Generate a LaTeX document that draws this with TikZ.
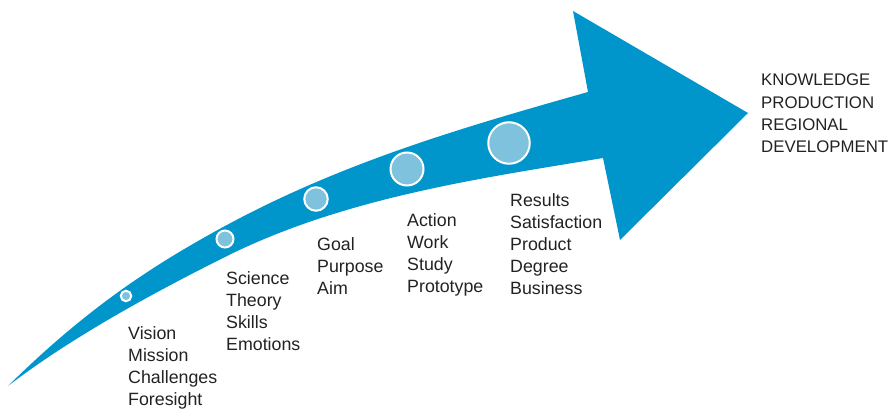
\documentclass[tikz,border=0pt]{standalone}
\usepackage{fontspec}
\setmainfont{Liberation Sans}
\definecolor{arrowblue}{HTML}{0096CC}
\definecolor{dotblue}{HTML}{7FC2DE}
\definecolor{txt}{HTML}{222222}
\begin{document}
\begin{tikzpicture}[x=1pt,y=-1pt,
  dot/.style={circle,fill=dotblue,draw=white,line width=2pt,inner sep=0pt},
  lbl/.style={anchor=base west,inner sep=0pt,text=txt,font=\fontsize{17.8}{20}\selectfont},
  caps/.style={lbl,font=\fontsize{16.8}{20}\selectfont}]
\useasboundingbox (0,0) rectangle (891,409);
% arrow body
\coordinate (tail) at (8,386);
\coordinate (um) at (225,226);
\coordinate (lm) at (225,257);
\coordinate (nt) at (588,92);
\coordinate (ht) at (573,11);
\coordinate (tip) at (748,113);
\coordinate (hb) at (620,240);
\coordinate (nb) at (603,158);
\fill[arrowblue] (tail) .. controls (88,307) and (155,264) .. (um)
  .. controls (345,161) and (468,126) .. (nt)
  -- (ht) -- (tip) -- (hb) -- (nb)
  .. controls (483,178) and (345,197) .. (lm)
  .. controls (145,297) and (68,340) .. (tail) -- cycle;
% dots
\node[dot,minimum size=10.5pt] (c1) at (126,296) {};
\node[dot,minimum size=17pt] (c2) at (225,239) {};
\node[dot,minimum size=23.5pt] (c3) at (316,199) {};
\node[dot,minimum size=33pt] (c4) at (407,169) {};
\node[dot,minimum size=41.5pt] (c5) at (509,143) {};
% labels
\foreach \t [count=\i] in {Vision,Mission,Challenges,Foresight}
  \node[lbl] (a\i) at (128,{339+22.2*(\i-1)}) {\t};
\foreach \t [count=\i] in {Science,Theory,Skills,Emotions}
  \node[lbl] (b\i) at (226,{284+22.2*(\i-1)}) {\t};
\foreach \t [count=\i] in {Goal,Purpose,Aim}
  \node[lbl] (g\i) at (317,{250+22.2*(\i-1)}) {\t};
\foreach \t [count=\i] in {Action,Work,Study,Prototype}
  \node[lbl] (d\i) at (407,{226+22.2*(\i-1)}) {\t};
\foreach \t [count=\i] in {Results,Satisfaction,Product,Degree,Business}
  \node[lbl] (e\i) at (510,{206+22*(\i-1)}) {\t};
\foreach \t [count=\i] in {KNOWLEDGE,PRODUCTION,REGIONAL,DEVELOPMENT}
  \node[caps] (f\i) at (761,{86+22.2*(\i-1)}) {\t};
\end{tikzpicture}
\end{document}
